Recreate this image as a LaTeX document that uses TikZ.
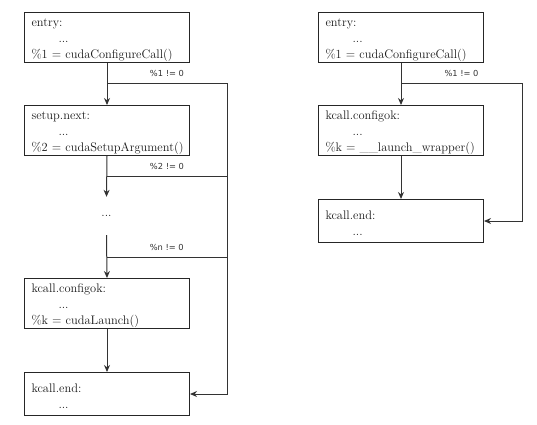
\documentclass[tikz,border=0pt]{standalone}
\usepackage{fontspec}
\newfontfamily\lblfont{DejaVu Sans}
\usetikzlibrary{arrows.meta}
\begin{document}
\begin{tikzpicture}[x=1pt,y=-1pt,
  blk/.style={draw=black!85, line width=1pt, anchor=north west, minimum height=#1, text width=151pt, inner xsep=7pt, inner ysep=0pt, align=left, font=\fontsize{12.4}{16}\selectfont, text=black!90},
  blk/.default=50pt,
  arr/.style={draw=black!80, line width=1pt, -{Stealth[length=7pt,width=6pt]}},
  ln/.style={draw=black!80, line width=1pt},
  lbl/.style={font=\lblfont\fontsize{8.3}{9}\selectfont, text=black!80, inner sep=2pt}]
\useasboundingbox (0,0) rectangle (537,424);
\newcommand{\ind}{\hspace*{27pt}}
\newcommand{\st}{\rule{0pt}{13pt}}
% left diagram
\node[blk] (entry) at (24,12) {\st entry:\\\ind...\\\mbox{\%1 = cudaConfigureCall()}};
\node[blk] (setup) at (24,105) {\st setup.next:\\\ind...\\\mbox{\%2 = cudaSetupArgument()}};
\node[minimum height=38pt, inner sep=0pt, font=\fontsize{12.4}{16}\selectfont, text=black!90] (dots) at (106.5,216) {...};
\node[blk] (kok) at (24,278) {\st kcall.configok:\\\ind...\\\mbox{\%k = cudaLaunch()}};
\node[blk=43pt] (kend) at (24,372) {\st kcall.end:\\\ind...};
\coordinate (j1) at (entry.south |- 0,83);
\coordinate (j2) at (setup.south |- 0,176);
\coordinate (j3) at (dots.south |- 0,257);
\coordinate (r1) at (227,83);
\draw[arr] (entry.south) -- (setup.north);
\draw[arr] (setup.south) -- (dots.north);
\draw[arr] (dots.south) -- (kok.north);
\draw[arr] (kok.south) -- (kend.north);
\draw[arr] (j1) -- node[lbl, above=4pt] {\%1 != 0} (r1) |- (kend.east);
\draw[ln] (j2) -- node[lbl, above=4pt] {\%2 != 0} (j2 -| r1);
\draw[ln] (j3) -- node[lbl, above=4pt] {\%n != 0} (j3 -| r1);
% right diagram
\node[blk] (entryB) at (318,12) {\st entry:\\\ind...\\\mbox{\%1 = cudaConfigureCall()}};
\node[blk] (kokB) at (318,105) {\st kcall.configok:\\\ind...\\\mbox{\%k = \_\_launch\_wrapper()}};
\node[blk=43pt] (kendB) at (318,199) {\st kcall.end:\\\ind...};
\coordinate (jB) at (entryB.south |- 0,83);
\coordinate (rB) at (522,83);
\draw[arr] (entryB.south) -- (kokB.north);
\draw[arr] (kokB.south) -- (kendB.north);
\draw[arr] (jB) -- node[lbl, above=4pt] {\%1 != 0} (rB) |- (kendB.east);
\end{tikzpicture}
\end{document}
